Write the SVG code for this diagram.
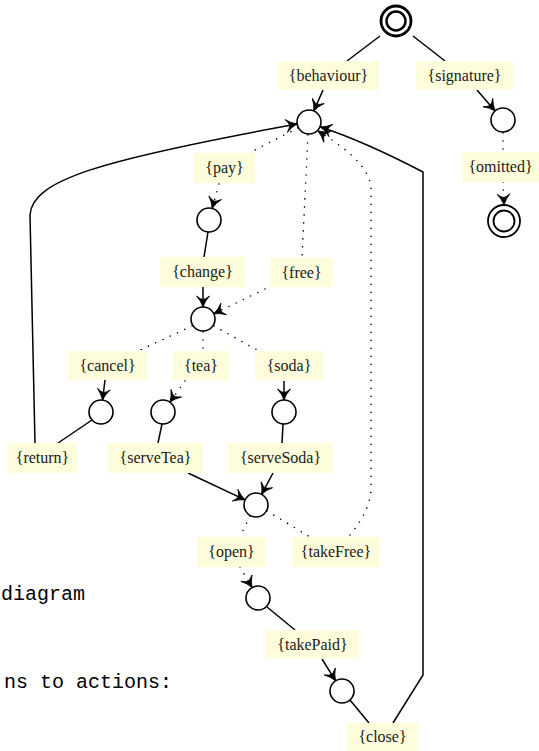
<svg xmlns="http://www.w3.org/2000/svg" width="539" height="751" viewBox="0 0 539 751">
<style>
.lbl rect{fill:#fdfddc;stroke:none}
.lbl text{font-family:"Liberation Serif","Times New Roman",serif;font-size:16px;fill:#1a1a1a;text-anchor:middle}
.st{fill:#fff;stroke:#000;stroke-width:1.6}
.c{fill:none;stroke:#000;stroke-width:1.5}
.d{fill:none;stroke:#000;stroke-width:1.6;stroke-dasharray:0 8;stroke-linecap:round}
.mono{font-family:"Liberation Mono","Courier New",monospace;font-size:20px;fill:#000;text-anchor:end}
</style>
<defs>
<marker id="ah" viewBox="0 -7 14 14" markerUnits="userSpaceOnUse" markerWidth="14" markerHeight="14" refX="12" refY="0" orient="auto">
<path d="M12,0 Q6,-2 1,-6.5 Q4.5,-2 4.5,0 Q4.5,2 1,6.5 Q6,2 12,0 Z" fill="#000" stroke="#000" stroke-width="0.8" stroke-linejoin="round"/>
</marker>
</defs>
<g id="connectors">
<line class="c" x1="380" y1="36" x2="347" y2="61"/>
<line class="c" x1="413" y1="36" x2="445" y2="61"/>
<line class="c" x1="323" y1="90" x2="313.8" y2="111" marker-end="url(#ah)"/>
<line class="c" x1="477" y1="90" x2="495.1" y2="110.9" marker-end="url(#ah)"/>
<line class="d" x1="503" y1="133" x2="503" y2="152"/>
<line class="d" x1="503" y1="182" x2="504" y2="205" marker-end="url(#ah)"/>
<path class="c" d="M35,443 L30,215 C32,180 100,160 297,124" marker-end="url(#ah)"/>
<path class="c" d="M393,723 L423,675 L423,172 C400,160 360,140 320.5,127" marker-end="url(#ah)"/>
<path class="d" d="M350,535 C362,520 371,505 371,487 L371,190 C371,165 340,145 318,131" marker-end="url(#ah)"/>
<line class="d" x1="298" y1="128" x2="251" y2="152"/>
<line class="d" x1="219" y1="184" x2="212.2" y2="208.4" marker-end="url(#ah)"/>
<line class="c" x1="208" y1="232" x2="204" y2="257"/>
<line class="d" x1="308" y1="135" x2="302" y2="258"/>
<line class="c" x1="203" y1="287" x2="203" y2="307" marker-end="url(#ah)"/>
<line class="d" x1="265" y1="289" x2="213.8" y2="313.8" marker-end="url(#ah)"/>
<line class="d" x1="192" y1="326" x2="138" y2="351"/>
<line class="d" x1="203" y1="332" x2="203" y2="351"/>
<line class="d" x1="214" y1="326" x2="259" y2="351"/>
<line class="c" x1="105" y1="380" x2="102.5" y2="400" marker-end="url(#ah)"/>
<line class="d" x1="185" y1="381" x2="169.9" y2="402.2" marker-end="url(#ah)"/>
<line class="c" x1="284" y1="381" x2="284" y2="400" marker-end="url(#ah)"/>
<line class="c" x1="92" y1="420" x2="58" y2="443"/>
<line class="c" x1="162" y1="424" x2="158" y2="443"/>
<line class="c" x1="283" y1="424" x2="282" y2="443"/>
<line class="c" x1="188" y1="473" x2="245.1" y2="499.9" marker-end="url(#ah)"/>
<line class="c" x1="273" y1="473" x2="261.6" y2="494.4" marker-end="url(#ah)"/>
<line class="d" x1="250" y1="516" x2="240" y2="537"/>
<line class="d" x1="267" y1="511" x2="310" y2="537"/>
<line class="d" x1="240" y1="567" x2="252" y2="587.6" marker-end="url(#ah)"/>
<line class="c" x1="267" y1="607" x2="295" y2="630"/>
<line class="c" x1="322" y1="659" x2="335.6" y2="680.8" marker-end="url(#ah)"/>
<line class="c" x1="350" y1="700" x2="369" y2="723"/>
</g>
<g id="root"><circle cx="396" cy="21" r="15" fill="#fff" stroke="#000" stroke-width="2.8"/><circle cx="396" cy="21" r="9.5" fill="#fff" stroke="#000" stroke-width="2.4"/></g>
<g id="final"><circle cx="504" cy="221" r="16" fill="#fff" stroke="#000" stroke-width="1.8"/><circle cx="504" cy="221" r="10.5" fill="#fff" stroke="#000" stroke-width="1.8"/></g>
<g id="n-behaviour"><circle class="st" cx="309" cy="122" r="12"/></g>
<g id="n-signature"><circle class="st" cx="503" cy="120" r="12"/></g>
<g id="n-pay"><circle class="st" cx="209" cy="220" r="12"/></g>
<g id="n-choice"><circle class="st" cx="203" cy="319" r="12"/></g>
<g id="n-cancel"><circle class="st" cx="101" cy="412" r="12"/></g>
<g id="n-tea"><circle class="st" cx="163" cy="412" r="12"/></g>
<g id="n-soda"><circle class="st" cx="284" cy="412" r="12"/></g>
<g id="n-merge"><circle class="st" cx="256" cy="505" r="12"/></g>
<g id="n-open"><circle class="st" cx="258" cy="598" r="12"/></g>
<g id="n-paid"><circle class="st" cx="342" cy="691" r="12"/></g>
<g id="l-behaviour" class="lbl"><rect x="278" y="61" width="101" height="29"/><text x="328.5" y="81">{behaviour}</text></g>
<g id="l-signature" class="lbl"><rect x="416" y="61" width="97" height="29"/><text x="464.5" y="81">{signature}</text></g>
<g id="l-omitted" class="lbl"><rect x="462" y="152" width="77" height="30"/><text x="500.5" y="172">{omitted}</text></g>
<g id="l-pay" class="lbl"><rect x="194" y="153" width="61" height="30"/><text x="224.5" y="173">{pay}</text></g>
<g id="l-change" class="lbl"><rect x="160" y="257" width="85" height="30"/><text x="202.5" y="277">{change}</text></g>
<g id="l-free" class="lbl"><rect x="270" y="258" width="63" height="29"/><text x="301.5" y="278">{free}</text></g>
<g id="l-cancel" class="lbl"><rect x="68" y="351" width="79" height="29"/><text x="107.5" y="371">{cancel}</text></g>
<g id="l-tea" class="lbl"><rect x="173" y="351" width="56" height="29"/><text x="201" y="371">{tea}</text></g>
<g id="l-soda" class="lbl"><rect x="255" y="351" width="68" height="29"/><text x="289" y="371">{soda}</text></g>
<g id="l-return" class="lbl"><rect x="8" y="443" width="69" height="30"/><text x="42.5" y="463">{return}</text></g>
<g id="l-serveTea" class="lbl"><rect x="108" y="443" width="95" height="30"/><text x="155.5" y="463">{serveTea}</text></g>
<g id="l-serveSoda" class="lbl"><rect x="228" y="443" width="105" height="30"/><text x="280.5" y="463">{serveSoda}</text></g>
<g id="l-open" class="lbl"><rect x="197" y="537" width="69" height="30"/><text x="231.5" y="557">{open}</text></g>
<g id="l-takeFree" class="lbl"><rect x="292" y="537" width="88" height="30"/><text x="336" y="557">{takeFree}</text></g>
<g id="l-takePaid" class="lbl"><rect x="266" y="630" width="93" height="29"/><text x="312.5" y="650">{takePaid}</text></g>
<g id="l-close" class="lbl"><rect x="347" y="723" width="71" height="28"/><text x="382.5" y="742">{close}</text></g>
<text class="mono" x="85" y="600">diagram</text>
<text class="mono" x="172" y="688">ns to actions:</text>
</svg>
